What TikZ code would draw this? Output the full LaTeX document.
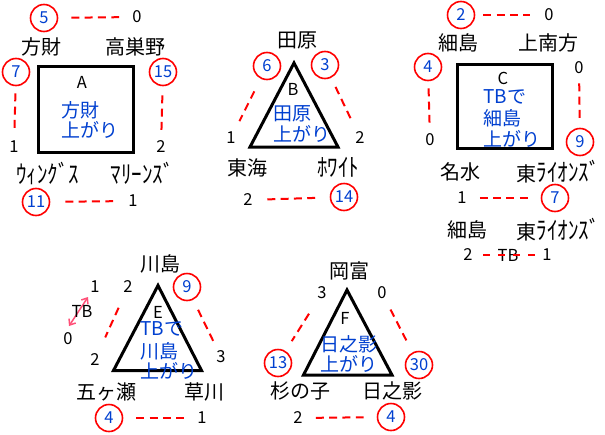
\documentclass[tikz,border=0pt]{standalone}
\usepackage{fontspec}
\usepackage{graphicx}
\setmainfont{Noto Sans CJK JP}
\usetikzlibrary{arrows.meta}
\definecolor{tblue}{RGB}{0,64,208}
\definecolor{tred}{RGB}{255,0,0}
\definecolor{tpink}{RGB}{255,80,120}
\newcommand{\labf}{\fontsize{20}{22}\selectfont}
\newcommand{\numf}{\fontsize{16.5}{18}\selectfont}
\newcommand{\bluef}{\fontsize{19}{20}\selectfont}
\newcommand{\hw}[1]{\scalebox{1.05}[1.25]{#1}}
\begin{document}
\begin{tikzpicture}[x=1pt,y=-1pt,
  lab/.style={inner sep=0pt, font=\labf},
  num/.style={inner sep=0pt, font=\numf},
  btx/.style={inner sep=0pt, anchor=west, font=\bluef, text=tblue},
  sc/.style={circle, draw=tred, line width=1.6pt, minimum size=27pt, inner sep=0pt, text=tblue, font=\numf},
  dl/.style={draw=tred, line width=2pt, dash pattern=on 8pt off 5.33pt},
  hl/.style={dl, shorten <=13pt, shorten >=13pt},
  frame/.style={draw=black, line width=3pt},
  bx/.style={frame, inner sep=0pt},
  dbl/.style={draw=tpink, line width=1.5pt, {Straight Barb[length=5pt,width=8pt]}-{Straight Barb[length=5pt,width=8pt]}}
]
\fill[white] (0,0) rectangle (605,434);
\useasboundingbox (0,0) rectangle (605,434);

% ---------- Panel A ----------
\node[sc] (a5) at (44,18) {5};
\node[num] (a0t) at (137,17) {0};
\draw[hl] (a5) -- (a0t);
\node[lab] (aL1) at (41,47) {方財};
\node[lab] (aL2) at (135,47) {高巣野};
\node[sc] (a7) at (16,72) {7};
\node[sc] (a15) at (163,72) {15};
\node[bx, minimum width=95pt, minimum height=86pt] (aBox) at (86,109.5) {};
\node[num] (aT) at (82,82) {A};
\node[btx] (aB1) at (61,110) {方財};
\node[btx] (aB2) at (61,130) {上がり};
\node[num] (a1l) at (14,147) {1};
\node[num] (a2r) at (161,147) {2};
\draw[dl, shorten <=7pt, shorten >=13pt] (a7) -- (a1l);
\draw[dl, shorten <=9pt, shorten >=8pt] (a15) -- (a2r);
\node[lab] (aL3) at (48,173) {\hw{ｳｨﾝｸﾞｽ}};
\node[lab] (aL4) at (142,173) {\hw{ﾏﾘｰﾝｽﾞ}};
\node[sc] (a11) at (36,202) {11};
\node[num] (a1b) at (133,201) {1};
\draw[hl, shorten <=15pt, shorten >=15pt] (a11) -- (a1b);

% ---------- Panel B ----------
\node[lab] (bL1) at (297,40) {田原};
\coordinate (bT) at (294,63);
\coordinate (bl) at (250,147);
\coordinate (br) at (338,147);
\draw[frame] (bT) -- (bl) -- (br) -- cycle;
\node[sc] (b6) at (267,66) {6};
\node[sc] (b3) at (325,65) {3};
\node[num] (bTx) at (293,89) {B};
\node[btx] (bB1) at (273,114) {田原};
\node[btx] (bB2) at (273,134) {上がり};
\node[num] (b1) at (231,138) {1};
\node[num] (b2r) at (360,138) {2};
\draw[dl, shorten <=14pt, shorten >=12pt] (b6) -- (b1);
\draw[dl, shorten <=10pt, shorten >=14pt] (b3) -- (b2r);
\node[lab] (bL2) at (247,168) {東海};
\node[lab] (bL3) at (338,167) {\hw{ﾎﾜｲﾄ}};
\node[num] (b2b) at (248,200) {2};
\node[sc] (b14) at (344,197) {14};
\draw[hl, shorten <=14.5pt, shorten >=14.5pt] (b2b) -- (b14);

% ---------- Panel C ----------
\node[sc] (c2) at (461,15) {2};
\node[num] (c0t) at (549,15) {0};
\draw[hl, shorten <=8pt, shorten >=14pt] (c2) -- (c0t);
\node[lab] (cL1) at (458,43) {細島};
\node[lab] (cL2) at (548,43) {上南方};
\node[sc] (c4) at (428,67) {4};
\node[num] (c0r) at (579,68) {0};
\node[bx, minimum width=95pt, minimum height=84pt] (cBox) at (505,106.5) {};
\node[num] (cTx) at (503,78) {C};
\node[btx] (cB1) at (483,97) {TBで};
\node[btx] (cB2) at (483,118) {細島};
\node[btx] (cB3) at (483,139) {上がり};
\node[num] (c0l) at (430,140) {0};
\node[sc] (c9) at (580,142) {9};
\draw[dl, shorten <=7pt, shorten >=11pt] (c4) -- (c0l);
\draw[dl, shorten <=9pt, shorten >=8pt] (c0r) -- (c9);
\node[lab] (cL3) at (460,172) {名水};
\node[lab] (cL4) at (558,172) {東\hw{ﾗｲｵﾝｽﾞ}};
\node[num] (c1b) at (462,198) {1};
\node[sc] (c7) at (555,198) {7};
\draw[hl] (c1b) -- (c7);
\node[lab] (cL5) at (467.5,230) {細島};
\node[lab] (cL6) at (558,230) {東\hw{ﾗｲｵﾝｽﾞ}};
\node[num] (c2s) at (468,255) {2};
\node[num] (cTB) at (508,255) {TB};
\node[num] (c1s) at (547,255) {1};
\draw[draw=tred, line width=2pt, dash pattern=on 7pt off 8pt, shorten <=10.5pt, shorten >=7.5pt] (c2s) -- (c1s);

% ---------- Panel E ----------
\node[lab] (eL1) at (160,264) {川島};
\coordinate (eT) at (158,285.5);
\coordinate (ebl) at (113.5,370.5);
\coordinate (ebr) at (201.5,370.5);
\draw[frame] (eT) -- (ebl) -- (ebr) -- cycle;
\node[sc] (e9) at (187,287) {9};
\node[num] (e1) at (95,287) {1};
\node[num] (e2t) at (128,287) {2};
\coordinate (eA1) at (69,326);
\coordinate (eA2) at (88,297);
\draw[dbl] (eA1) -- (eA2);
\node[num] (eTB) at (82,311) {TB};
\node[num] (e0) at (68,339) {0};
\node[num] (eTx) at (158,312) {E};
\node[btx] (eB1) at (140,329) {TBで};
\node[btx] (eB2) at (140,351) {川島};
\node[btx] (eB3) at (140,371) {上がり};
\node[num] (e2b) at (95,360) {2};
\node[num] (e3) at (221,357) {3};
\draw[dl, shorten <=16pt, shorten >=18pt] (e2t) -- (e2b);
\draw[dl, shorten <=11pt, shorten >=11pt] (e9) -- (e3);
\node[lab] (eL2) at (106,392) {五ヶ瀬};
\node[lab] (eL3) at (204,392) {草川};
\node[sc] (e4) at (109,418) {4};
\node[num] (e1b) at (202,418) {1};
\draw[hl] (e4) -- (e1b);

% ---------- Panel F ----------
\node[lab] (fL1) at (349,271) {岡富};
\node[num] (f3) at (322,293) {3};
\node[num] (f0) at (382,293) {0};
\coordinate (fT) at (347,290);
\coordinate (fbl) at (303.5,375);
\coordinate (fbr) at (392,375);
\draw[frame] (fT) -- (fbl) -- (fbr) -- cycle;
\node[num] (fTx) at (345,318) {F};
\node[btx] (fB1) at (320,344) {日之影};
\node[btx] (fB2) at (320,364) {上がり};
\node[sc] (f13) at (278,363) {13};
\node[sc] (f30) at (419,365) {30};
\draw[dl, shorten <=17pt, shorten >=11.5pt] (f3) -- (f13);
\draw[dl, shorten <=11.5pt, shorten >=11.5pt] (f0) -- (f30);
\node[lab] (fL2) at (300,391) {杉の子};
\node[lab] (fL3) at (392.5,391) {日之影};
\node[num] (f2) at (298,418) {2};
\node[sc] (f4) at (391,417) {4};
\draw[hl] (f2) -- (f4);
\end{tikzpicture}
\end{document}
